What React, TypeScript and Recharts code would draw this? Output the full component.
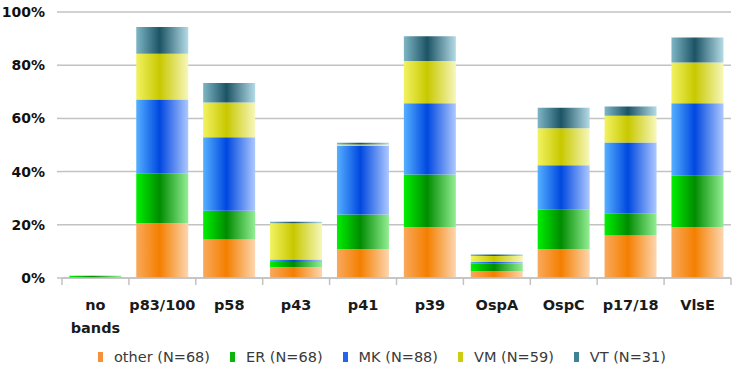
import React from "react";
import {
  BarChart,
  Bar,
  XAxis,
  YAxis,
  CartesianGrid,
  Legend,
} from "recharts";

const bands = [
  "no bands",
  "p83/100",
  "p58",
  "p43",
  "p41",
  "p39",
  "OspA",
  "OspC",
  "p17/18",
  "VlsE",
];

// percentage of each group per band (stacked)
const other = [0, 20.6, 14.5, 4.0, 10.8, 19.1, 2.5, 10.8, 16.0, 19.1];
const er = [0.8, 18.8, 10.8, 2.0, 13.1, 19.8, 3.0, 14.9, 8.3, 19.3];
const mk = [0, 27.7, 27.6, 1.0, 25.8, 26.8, 0.5, 16.7, 26.6, 27.3];
const vm = [0, 17.2, 13.1, 13.6, 0.5, 15.9, 2.3, 13.9, 10.1, 15.3];
const vt = [0, 10.1, 7.3, 0.5, 0.6, 9.3, 0.5, 7.7, 3.5, 9.4];

const yTicks = [0, 20, 40, 60, 80, 100];

const series = [
  { key: "other", name: "other (N=68)", stops: ["#f9a95c", "#f47f00", "#fdd6b0"], swatch: "#f7903a" },
  { key: "er", name: "ER (N=68)", stops: ["#00f000", "#008c00", "#94ee94"], swatch: "#0ab40a" },
  { key: "mk", name: "MK (N=88)", stops: ["#55b0ff", "#0048e0", "#aec8ff"], swatch: "#2266ee" },
  { key: "vm", name: "VM (N=59)", stops: ["#f2f262", "#c8c800", "#f7f7bc"], swatch: "#cccc10" },
  { key: "vt", name: "VT (N=31)", stops: ["#7fb6c6", "#1d5465", "#b4dbe6"], swatch: "#3f8296" },
];

const data = bands.map((name, i) => ({
  name,
  other: other[i],
  er: er[i],
  mk: mk[i],
  vm: vm[i],
  vt: vt[i],
}));

const font = "'DejaVu Sans', 'Liberation Sans', sans-serif";
const gridColor = "#c2c2c2";

function BandTick(props: any) {
  const { x, y, payload, index, visibleTicksCount } = props;
  const half = payload && payload.offset ? payload.offset : 33.45;
  const lines = String(payload.value).split(" ");
  const last = index === (visibleTicksCount ?? bands.length) - 1;
  return (
    <g>
      <line x1={x - half} x2={x - half} y1={y} y2={y + 7} stroke={gridColor} strokeWidth={1.5} />
      {last && (
        <line x1={x + half} x2={x + half} y1={y} y2={y + 7} stroke={gridColor} strokeWidth={1.5} />
      )}
      <text
        x={x}
        y={y}
        textAnchor="middle"
        fill="#1a1a1a"
        fontFamily={font}
        fontWeight="bold"
        fontSize={14.5}
      >
        {lines.map((l, j) => (
          <tspan key={j} x={x} dy={j === 0 ? 32 : 23}>
            {l}
          </tspan>
        ))}
      </text>
    </g>
  );
}

function LegendBox() {
  return (
    <div
      style={{
        display: "flex",
        alignItems: "center",
        paddingLeft: 98,
        fontFamily: font,
        fontSize: 14.5,
        color: "#3a3a3a",
        height: 20,
      }}
    >
      {series.map((s) => (
        <div key={s.key} style={{ display: "flex", alignItems: "center", marginRight: 20 }}>
          <span
            style={{
              display: "inline-block",
              width: 5,
              height: 10,
              background: s.swatch,
              marginRight: 11,
            }}
          />
          <span>{s.name}</span>
        </div>
      ))}
    </div>
  );
}

export default function App() {
  return (
    <div style={{ position: "absolute", left: 0, top: 0, background: "#fff" }}>
      <BarChart
        width={734}
        height={372}
        data={data}
        margin={{ top: 12, right: 3, left: 0, bottom: 5 }}
        barCategoryGap="11%"
      >
        <defs>
          {series.map((s) => (
            <linearGradient key={s.key} id={"grad-" + s.key} x1="0" y1="0" x2="1" y2="0">
              <stop offset="0%" stopColor={s.stops[0]} />
              <stop offset="45%" stopColor={s.stops[1]} />
              <stop offset="100%" stopColor={s.stops[2]} />
            </linearGradient>
          ))}
        </defs>
        <CartesianGrid vertical={false} stroke={gridColor} strokeWidth={1.5} />
        <XAxis
          dataKey="name"
          interval={0}
          height={69}
          tickSize={0}
          tickMargin={0}
          tickLine={false}
          axisLine={{ stroke: gridColor, strokeWidth: 1.5 }}
          tick={<BandTick />}
        />
        <YAxis
          width={62}
          domain={[0, 100]}
          ticks={yTicks}
          axisLine={false}
          tickSize={5}
          tickMargin={12}
          tickLine={{ stroke: gridColor, strokeWidth: 1.5 }}
          tickFormatter={(v: number) => `${v}%`}
          tick={{ fill: "#111", fontFamily: font, fontWeight: "bold", fontSize: 14 }}
        />
        <Legend verticalAlign="bottom" height={20} content={<LegendBox />} />
        {series.map((s) => (
          <Bar
            key={s.key}
            dataKey={s.key}
            name={s.name}
            stackId="a"
            fill={`url(#grad-${s.key})`}
            isAnimationActive={false}
          />
        ))}
      </BarChart>
    </div>
  );
}
